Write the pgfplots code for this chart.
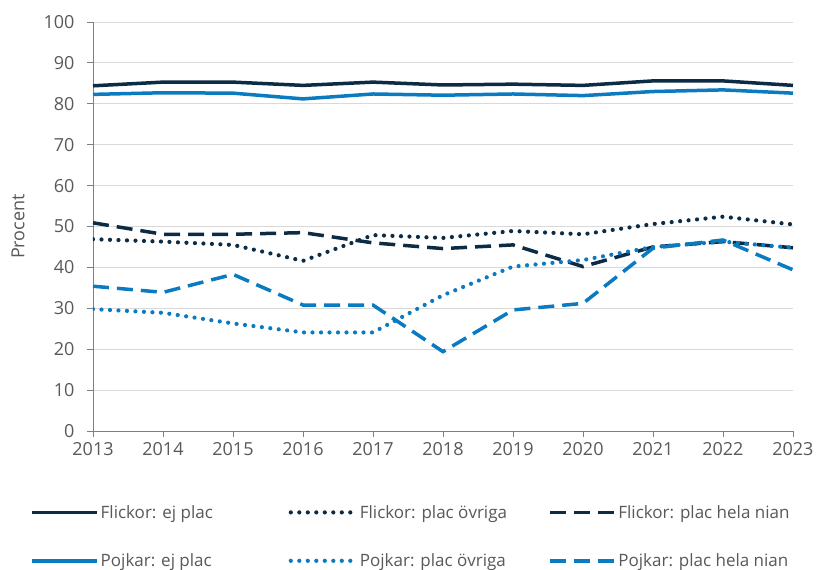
\documentclass[border=0pt]{standalone}
\usepackage{fontspec}
\setmainfont{Open Sans}
\usepackage{pgfplots}
\pgfplotsset{compat=1.18}
\definecolor{navy}{HTML}{0C2B44}
\definecolor{blue}{HTML}{0A7BC0}
\definecolor{gridc}{HTML}{D9D9D9}
\definecolor{axc}{HTML}{7F7F7F}
\definecolor{txt}{HTML}{595959}
\begin{document}
\begin{tikzpicture}
\useasboundingbox (-93pt,-139pt) rectangle (724pt,431pt);
\begin{axis}[
  scale only axis, width=700pt, height=409pt,
  xmin=2013, xmax=2023, ymin=0, ymax=100,
  xtick={2013,...,2023}, ytick={0,10,...,100},
  /pgf/number format/assume math mode=true,
  x tick label style={/pgf/number format/1000 sep={}, yshift=-2pt},
  y tick label style={xshift=-9pt},
  tick label style={font=\fontsize{18}{21}\selectfont, text=txt},
  axis x line*=bottom, axis y line*=left,
  axis line style={axc, line width=0.8pt},
  tick style={axc, line width=0.8pt},
  major tick length=6pt, tick align=outside,
  ymajorgrids, grid style={gridc, line width=0.8pt},
  ylabel={Procent},
  every axis y label/.style={at={(axis description cs:0,0.5)}, rotate=90, anchor=center, yshift=75pt, font=\fontsize{18}{21}\selectfont, text=txt},
  legend columns=3,
  legend style={draw=none, at={(axis cs:2013,0)}, anchor=north west, xshift=-63pt, yshift=-72pt,
     font=\fontsize{17}{20}\selectfont, text=txt, row sep=30pt, inner sep=0pt},
  legend cell align=left,
  legend image code/.code={\draw[#1] (0pt,0pt) -- (65pt,0pt);},
  every axis plot/.append style={line width=3.5pt},
  dotline/.style={line width=4.2pt, line cap=round, dash pattern=on 0pt off 8.5pt},
]
\addplot[navy] coordinates {(2013,84.4)(2014,85.3)(2015,85.3)(2016,84.5)(2017,85.3)(2018,84.6)(2019,84.8)(2020,84.5)(2021,85.6)(2022,85.6)(2023,84.5)};
\addlegendentry{\makebox[186pt][l]{Flickor: ej plac}}
\addplot[navy, dotline] coordinates {(2013,46.9)(2014,46.3)(2015,45.5)(2016,41.6)(2017,47.9)(2018,47.2)(2019,48.9)(2020,48.1)(2021,50.6)(2022,52.4)(2023,50.5)};
\addlegendentry{\makebox[186pt][l]{Flickor: plac övriga}}
\addplot[navy, dash pattern=on 16pt off 8pt] coordinates {(2013,50.9)(2014,48.1)(2015,48.1)(2016,48.5)(2017,46.0)(2018,44.6)(2019,45.5)(2020,40.2)(2021,45.0)(2022,46.3)(2023,44.8)};
\addlegendentry{Flickor: plac hela nian}
\addplot[blue] coordinates {(2013,82.3)(2014,82.7)(2015,82.6)(2016,81.2)(2017,82.4)(2018,82.1)(2019,82.4)(2020,82.0)(2021,83.0)(2022,83.4)(2023,82.6)};
\addlegendentry{\makebox[186pt][l]{Pojkar: ej plac}}
\addplot[blue, dotline] coordinates {(2013,29.8)(2014,28.9)(2015,26.3)(2016,24.1)(2017,24.1)(2018,33.2)(2019,40.2)(2020,41.8)(2021,45.0)(2022,46.3)(2023,44.8)};
\addlegendentry{\makebox[186pt][l]{Pojkar: plac övriga}}
\addplot[blue, dash pattern=on 16pt off 8pt] coordinates {(2013,35.4)(2014,33.9)(2015,38.3)(2016,30.8)(2017,30.8)(2018,19.4)(2019,29.6)(2020,31.2)(2021,44.7)(2022,46.7)(2023,39.4)};
\addlegendentry{Pojkar: plac hela nian}
\end{axis}
\end{tikzpicture}
\end{document}
